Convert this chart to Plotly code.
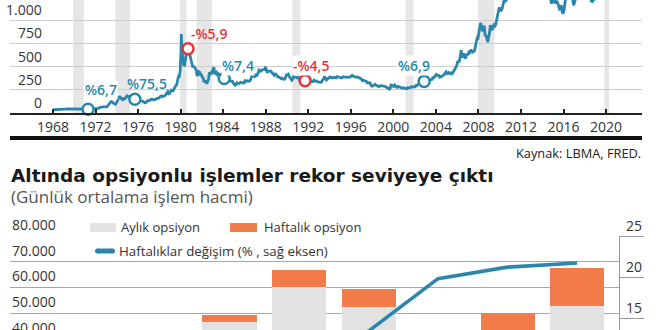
import plotly.graph_objects as go

W, H = 660, 330

# ---------------- data: gold price (USD/oz, monthly) ----------------
gold_1968_1979 = [
    35.2, 35.2, 37.0, 37.7, 41.0, 41.1, 39.5, 39.2, 39.6, 39.6, 40.3, 41.1,
    42.4, 42.6, 43.4, 43.3, 43.5, 41.7, 41.9, 41.0, 40.9, 40.5, 37.4, 35.2,
    34.9, 35.0, 35.1, 35.6, 35.9, 35.4, 35.3, 35.4, 36.2, 37.5, 37.4, 37.4,
    37.9, 38.7, 38.9, 39.0, 40.5, 40.1, 41.0, 42.7, 42.0, 42.5, 42.9, 43.5,
    45.7, 48.3, 48.3, 49.0, 54.6, 62.1, 65.7, 67.0, 65.5, 64.9, 62.9, 63.9,
    65.1, 74.2, 84.4, 90.5, 102.0, 122.5, 120.2, 106.8, 103.0, 100.1, 94.8, 106.5,
    129.2, 150.2, 168.4, 172.2, 163.9, 154.1, 143.0, 154.6, 151.8, 158.8, 181.7, 183.9,
    176.3, 179.6, 178.2, 170.0, 167.0, 164.2, 165.2, 163.0, 144.1, 142.8, 142.9, 139.3,
    131.5, 131.0, 132.6, 128.2, 127.0, 125.8, 117.8, 109.9, 114.0, 116.0, 130.6, 133.9,
    132.3, 136.4, 148.3, 149.2, 146.7, 140.9, 143.4, 144.9, 149.0, 158.8, 162.1, 160.5,
    173.2, 178.2, 183.7, 175.3, 176.3, 183.7, 188.7, 206.0, 212.2, 227.5, 206.2, 207.8,
    227.3, 245.7, 242.0, 239.2, 257.6, 279.1, 294.4, 301.1, 355.2, 391.6, 392.5, 455.1,
]
gold_1980_1989 = [
    675.3, 665.3, 553.6, 517.4, 513.8, 600.7, 644.3, 626.5, 673.6, 661.2, 623.5, 594.9,
    557.6, 499.8, 498.8, 495.8, 479.7, 460.8, 409.3, 410.1, 443.5, 437.8, 413.4, 410.1,
    384.1, 374.2, 330.2, 350.5, 333.9, 314.9, 339.0, 364.4, 435.6, 422.0, 414.3, 444.2,
    481.4, 491.4, 419.7, 432.7, 437.8, 412.0, 422.7, 416.2, 411.9, 393.5, 381.6, 388.0,
    370.9, 386.0, 394.1, 381.1, 377.3, 377.6, 347.6, 347.7, 341.1, 340.2, 341.2, 320.2,
    302.9, 299.0, 304.0, 324.8, 316.6, 316.8, 317.4, 330.2, 323.4, 325.6, 325.0, 321.6,
    345.4, 338.9, 345.7, 340.4, 342.5, 342.8, 348.5, 376.8, 417.7, 423.5, 395.2, 391.1,
    408.2, 401.0, 408.9, 438.4, 460.9, 449.6, 450.8, 460.9, 460.2, 465.7, 467.5, 486.3,
    477.4, 442.2, 443.6, 451.8, 451.3, 451.7, 437.6, 431.4, 413.1, 406.3, 420.2, 419.0,
    404.0, 387.8, 390.2, 384.1, 371.3, 367.6, 375.0, 365.4, 361.9, 366.9, 393.9, 409.2,
]
gold_1990_1999 = [
    410.1, 416.8, 393.1, 374.3, 369.1, 352.4, 362.5, 395.1, 389.3, 380.8, 381.6, 378.2,
    383.6, 363.8, 363.3, 358.4, 356.8, 366.7, 367.7, 356.5, 348.8, 358.7, 360.2, 361.1,
    354.4, 353.9, 344.3, 338.6, 337.2, 340.8, 352.8, 343.0, 345.3, 344.1, 335.0, 334.8,
    329.0, 329.3, 330.1, 342.2, 367.2, 371.9, 392.0, 378.9, 355.5, 364.2, 373.7, 383.2,
    387.0, 381.9, 384.1, 377.3, 381.4, 385.6, 385.5, 380.4, 391.6, 389.8, 384.4, 379.3,
    378.6, 376.5, 382.1, 391.0, 385.2, 387.6, 386.2, 383.7, 383.1, 383.1, 385.3, 387.4,
    399.5, 404.8, 396.2, 392.9, 391.9, 385.3, 383.5, 387.5, 383.1, 381.1, 377.9, 369.2,
    355.0, 346.6, 351.8, 344.4, 343.8, 340.8, 324.1, 323.8, 323.0, 324.9, 306.0, 288.7,
    289.2, 297.5, 295.9, 308.4, 299.1, 292.3, 292.9, 284.1, 288.9, 296.1, 294.1, 291.6,
    287.1, 287.3, 285.9, 282.6, 276.4, 261.3, 256.1, 256.7, 264.7, 310.7, 293.2, 283.1,
]
gold_2000_2009 = [
    284.6, 300.0, 286.4, 279.7, 275.1, 285.3, 282.0, 274.5, 273.7, 270.0, 266.0, 271.5,
    265.5, 261.9, 263.0, 260.5, 272.4, 270.2, 267.5, 272.4, 283.4, 283.1, 276.2, 275.9,
    281.7, 295.5, 294.0, 302.7, 314.5, 321.2, 313.3, 310.3, 319.2, 316.6, 319.2, 333.4,
    356.9, 359.0, 340.6, 328.2, 355.7, 356.4, 351.0, 359.8, 378.9, 378.9, 389.9, 407.6,
    414.0, 405.3, 406.7, 403.0, 383.8, 392.4, 398.1, 400.5, 405.3, 420.5, 439.4, 442.1,
    424.0, 423.4, 434.2, 429.2, 421.9, 430.7, 424.5, 437.9, 456.0, 469.9, 476.7, 510.1,
    549.9, 555.0, 557.1, 610.6, 676.5, 596.2, 633.8, 632.6, 598.2, 585.8, 627.8, 629.8,
    631.2, 664.8, 654.9, 679.4, 666.9, 655.5, 665.3, 665.4, 712.7, 754.6, 806.3, 803.2,
    889.6, 922.3, 968.4, 909.7, 888.7, 889.5, 939.8, 839.0, 829.9, 806.6, 760.9, 816.1,
    858.7, 943.2, 924.3, 890.2, 928.6, 945.7, 934.2, 949.4, 996.6, 1043.2, 1127.0, 1134.7,
]
gold_2010_2020 = [
    1117.9, 1095.4, 1113.3, 1148.7, 1205.4, 1232.9, 1192.9, 1215.8, 1271.0, 1342.0, 1369.9, 1390.6,
    1356.4, 1372.7, 1424.0, 1473.8, 1510.4, 1528.7, 1572.8, 1755.8, 1771.9, 1665.2, 1738.9, 1652.2,
    1656.1, 1742.6, 1673.8, 1649.2, 1591.2, 1598.8, 1594.3, 1630.3, 1744.5, 1746.6, 1721.6, 1688.5,
    1670.0, 1627.6, 1593.1, 1487.9, 1414.0, 1343.4, 1285.5, 1351.7, 1348.6, 1316.6, 1275.8, 1225.4,
    1244.3, 1300.0, 1336.1, 1299.0, 1287.5, 1279.1, 1310.6, 1295.1, 1236.6, 1222.5, 1175.3, 1200.6,
    1251.9, 1227.1, 1178.6, 1198.9, 1198.6, 1181.5, 1128.3, 1117.9, 1124.5, 1159.3, 1086.4, 1068.3,
    1097.9, 1199.5, 1245.1, 1242.3, 1260.9, 1276.4, 1336.7, 1340.2, 1326.6, 1266.6, 1238.4, 1157.4,
    1192.1, 1234.2, 1231.1, 1266.9, 1246.0, 1260.3, 1236.8, 1283.0, 1314.1, 1279.5, 1281.9, 1264.5,
    1331.3, 1330.7, 1324.7, 1334.8, 1303.5, 1281.6, 1238.0, 1201.7, 1198.4, 1215.4, 1220.7, 1250.4,
    1291.8, 1320.1, 1300.9, 1285.9, 1283.7, 1359.0, 1412.9, 1500.4, 1510.6, 1494.8, 1470.0, 1479.1,
    1560.7, 1597.1, 1591.9, 1682.9, 1716.0, 1732.2,
]
peak_years = [1980.06]
peak_values = [850.0]

recession_start = [1969.9, 1973.85, 1979.95, 1981.5, 1990.5, 2001.15, 2007.95, 2019.85]
recession_end = [1970.9, 1975.25, 1980.55, 1982.95, 1991.25, 2001.9, 2009.5, 2020.28]

marker_years = [1971.3, 1975.7, 1980.7, 1984.1, 1991.7, 2002.9]
marker_values = [41, 148, 690, 372, 348, 340]
marker_labels = ["%6,7", "%75,5", "-%5,9", "%7,4", "-%4,5", "%6,9"]

price_ticks = [0, 250, 500, 750, 1000]
price_tick_labels = ["0", "250", "500", "750", "1.000"]
year_ticks = list(range(1968, 2021, 4))

# ---------------- data: gold options volume ----------------
categories = ["2013", "2014", "2015", "2016", "2017", "2018", "2019", "2020"]
monthly_options = [30000, 34000, 46500, 60100, 52300, 32100, 39400, 52700]
weekly_options = [500, 1200, 2700, 6600, 7000, 7900, 10600, 14800]
weekly_change = [1.5, 3.5, 5.5, 9.9, 13.4, 19.8, 21.2, 21.7]

volume_ticks = [40000, 50000, 60000, 70000, 80000]
volume_tick_labels = ["40.000", "50.000", "60.000", "70.000", "80.000"]
change_ticks = [15, 20, 25]
change_tick_labels = ["15", "20", "25"]

# ---------------- styles ----------------
TEAL = "#2a87ab"
RED = "#e3343b"
GRAY_BAR = "#e2e2e2"
ORANGE = "#f17c4a"
TXT = "#333333"
FONT = "Open Sans"


def px(x):
    return x / W


def py(y):
    return 1 - y / H


def monthly_x(start, vals):
    return [start + (i + 0.5) / 12 for i in range(len(vals))]


xs, ys = [], []
for start, vals in [(1968, gold_1968_1979), (1980, gold_1980_1989), (1990, gold_1990_1999),
                    (2000, gold_2000_2009), (2010, gold_2010_2020)]:
    xs += monthly_x(start, vals)
    ys += vals
pts = sorted(zip(xs + peak_years, ys + peak_values))
line_x = [p[0] for p in pts]
line_y = [p[1] for p in pts]

marker_colors = [RED if s.startswith("-") else TEAL for s in marker_labels]

fig = go.Figure()

# top chart
fig.add_trace(go.Scatter(x=line_x, y=line_y, mode="lines", line=dict(color=TEAL, width=2.8),
                         xaxis="x", yaxis="y", hoverinfo="skip", showlegend=False))
fig.add_trace(go.Scatter(x=marker_years, y=marker_values, mode="markers",
                         marker=dict(size=11, color="white", line=dict(color=marker_colors, width=2.5)),
                         cliponaxis=False, xaxis="x", yaxis="y", hoverinfo="skip", showlegend=False))

# bottom chart
fig.add_trace(go.Bar(x=categories, y=monthly_options, marker=dict(color=GRAY_BAR, line=dict(width=0)),
                     xaxis="x2", yaxis="y2", name="Aylık opsiyon", showlegend=False, hoverinfo="skip"))
fig.add_trace(go.Bar(x=categories, y=weekly_options, marker=dict(color=ORANGE, line=dict(width=0)),
                     xaxis="x2", yaxis="y2", name="Haftalık opsiyon", showlegend=False, hoverinfo="skip"))
fig.add_trace(go.Scatter(x=categories, y=weekly_change, mode="lines", line=dict(color=TEAL, width=3.6),
                         xaxis="x2", yaxis="y3", showlegend=False, hoverinfo="skip"))

shapes = []
for s, e in zip(recession_start, recession_end):
    shapes.append(dict(type="rect", xref="x", yref="y domain", x0=s, x1=e, y0=0, y1=1,
                       fillcolor="#e6e6e6", line=dict(width=0), layer="below"))
# separator
shapes.append(dict(type="line", xref="paper", yref="paper", x0=px(10), x1=px(642), y0=py(138), y1=py(138),
                   line=dict(color="#111111", width=4)))
# legend swatches
shapes.append(dict(type="rect", xref="paper", yref="paper", x0=px(90), x1=px(116), y0=py(232), y1=py(223),
                   fillcolor=GRAY_BAR, line=dict(width=0)))
shapes.append(dict(type="rect", xref="paper", yref="paper", x0=px(230), x1=px(257), y0=py(232), y1=py(223),
                   fillcolor=ORANGE, line=dict(width=0)))
shapes.append(dict(type="line", xref="paper", yref="paper", x0=px(97.5), x1=px(112.5), y0=py(251), y1=py(251),
                   line=dict(color=TEAL, width=5)))
for cx in (97.5, 112.5):
    shapes.append(dict(type="circle", xref="paper", yref="paper", x0=px(cx - 2.5), x1=px(cx + 2.5),
                       y0=py(253.5), y1=py(248.5), fillcolor=TEAL, line=dict(width=0)))

ann = []
# top y labels
for v, t in zip(price_ticks, price_tick_labels):
    ann.append(dict(text=t, xref="paper", x=px(43), xanchor="right", yref="y", y=v, yanchor="bottom",
                    showarrow=False, font=dict(size=14, color=TXT), borderpad=0))
# marker labels
label_offsets = [(13, 20), (12, 16), (21, 15), (14, 13), (6, 15), (-10, 16)]
label_bg = [True, False, False, True, True, True]
for xv, yv, t, c, (dx, dy), bg in zip(marker_years, marker_values, marker_labels, marker_colors,
                                      label_offsets, label_bg):
    ann.append(dict(text=t, x=xv, y=yv, xref="x", yref="y", xshift=dx, yshift=dy, showarrow=False,
                    font=dict(size=14, color=c, weight=600), bgcolor="white" if bg else None, borderpad=0))
# source, title, subtitle
ann.append(dict(text="Kaynak: LBMA, FRED.", xref="paper", yref="paper", x=px(643), y=py(153),
                xanchor="right", yanchor="middle", showarrow=False, font=dict(size=12.8, color="#222")))
ann.append(dict(text="<b>Altında opsiyonlu işlemler rekor seviyeye çıktı</b>", xref="paper", yref="paper",
                x=px(9), y=py(175), xanchor="left", yanchor="middle", showarrow=False,
                font=dict(family="DejaVu Sans", size=18.5, color="#1a1a1a")))
ann.append(dict(text="(Günlük ortalama işlem hacmi)", xref="paper", yref="paper", x=px(9), y=py(196),
                xanchor="left", yanchor="middle", showarrow=False, font=dict(size=17, color="#555")))
# legend text
ann.append(dict(text="Aylık opsiyon", xref="paper", yref="paper", x=px(119), y=py(226.5), xanchor="left",
                yanchor="middle", showarrow=False, font=dict(size=13, color=TXT)))
ann.append(dict(text="Haftalık opsiyon", xref="paper", yref="paper", x=px(262), y=py(226.5), xanchor="left",
                yanchor="middle", showarrow=False, font=dict(size=13, color=TXT)))
ann.append(dict(text="Haftalıklar değişim (% , sağ eksen)", xref="paper", yref="paper", x=px(117), y=py(251),
                xanchor="left", yanchor="middle", showarrow=False, font=dict(size=13.3, color=TXT)))

# bottom axis geometry
y2_dom = [0, 1 - 236 / H]
y2_rng = [43380, 80000]
y3_rng = [13.537, 25]


def y2_paper(v):
    return y2_dom[0] + (v - y2_rng[0]) / (y2_rng[1] - y2_rng[0]) * (y2_dom[1] - y2_dom[0])


def y3_paper(v):
    return y2_dom[0] + (v - y3_rng[0]) / (y3_rng[1] - y3_rng[0]) * (y2_dom[1] - y2_dom[0])


for v, t in zip(volume_ticks, volume_tick_labels):
    ann.append(dict(text=t, xref="paper", x=px(11), xanchor="left", yref="paper", y=y2_paper(v),
                    yanchor="bottom", yshift=1, showarrow=False, font=dict(size=14, color=TXT), borderpad=0))
for v, t in zip(change_ticks, change_tick_labels):
    ann.append(dict(text=t, xref="paper", x=px(643), xanchor="right", yref="paper", y=y3_paper(v),
                    yanchor="bottom", showarrow=False, font=dict(size=14, color=TXT), borderpad=0))

fig.update_layout(
    width=W, height=H, margin=dict(l=0, r=0, t=0, b=0),
    paper_bgcolor="white", plot_bgcolor="white",
    font=dict(family=FONT, color=TXT),
    barmode="stack", bargap=0.223,
    showlegend=False,
    xaxis=dict(domain=[px(10), px(642)], range=[1963.957, 2023.38], tickvals=year_ticks,
               ticktext=[str(y) for y in year_ticks], ticks="inside", ticklen=4, tickwidth=1.5,
               tickcolor="#222", showline=True, linecolor="#222", linewidth=2, showgrid=False,
               zeroline=False, tickfont=dict(size=14, color=TXT), anchor="y", fixedrange=True),
    yaxis=dict(domain=[1 - 113 / H, 1], range=[0, 1215], tickvals=price_ticks, showticklabels=False,
               showgrid=True, gridcolor="#cdcdcd", gridwidth=1, zeroline=False, ticks="", anchor="x",
               fixedrange=True),
    xaxis2=dict(domain=[px(10), px(619)], type="category", range=[-1.158, 7.604], showticklabels=False,
                ticks="", showgrid=False, zeroline=False, showline=False, anchor="y2", fixedrange=True),
    yaxis2=dict(domain=y2_dom, range=y2_rng, tickvals=volume_ticks, showticklabels=False,
                showgrid=True, gridcolor="#a8a8a8", gridwidth=1, zeroline=False, ticks="", anchor="x2",
                fixedrange=True),
    yaxis3=dict(overlaying="y2", side="right", anchor="x2", range=y3_rng, tickvals=change_ticks,
                ticks="outside", ticklen=24, tickwidth=1, tickcolor="#999", showline=True, linecolor="#999",
                linewidth=1, showgrid=False, showticklabels=False, zeroline=False, fixedrange=True),
    shapes=shapes,
    annotations=ann,
)

fig.write_html("out.html", config={"displayModeBar": False})
